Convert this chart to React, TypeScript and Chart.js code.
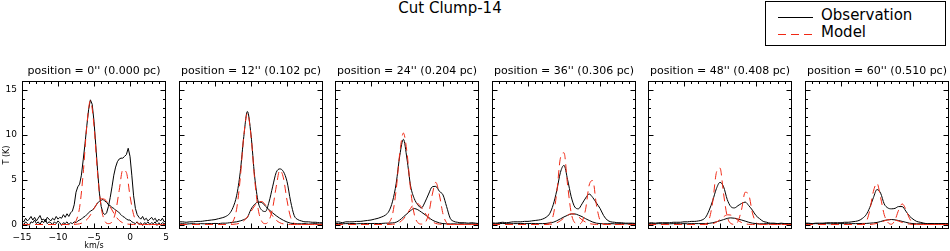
import React, { useEffect, useRef } from "react";
import { Chart, registerables } from "chart.js";
Chart.register(...registerables);

// ---------------- data ----------------
const VEL = [
  -15, -14.5, -14, -13.5, -13, -12.5, -12, -11.5, -11, -10.5,
  -10, -9.5, -9, -8.5, -8, -7.5, -7, -6.5, -6, -5.5,
  -5, -4.5, -4, -3.5, -3, -2.5, -2, -1.5, -1, -0.5,
  0, 0.5, 1, 1.5, 2, 2.5, 3, 3.5, 4, 4.5, 5,
];
const VEL_FINE = [
  -15, -14.75, -14.5, -14.25, -14, -13.75, -13.5, -13.25, -13, -12.75,
  -12.5, -12.25, -12, -11.75, -11.5, -11.25, -11, -10.75, -10.5, -10.25,
  -10, -9.75, -9.5, -9.25, -9, -8.75, -8.5, -8.25, -8, -7.75,
  -7.5, -7.25, -7, -6.75, -6.5, -6.25, -6, -5.75, -5.5, -5.25,
  -5, -4.75, -4.5, -4.25, -4, -3.75, -3.5, -3.25, -3, -2.75,
  -2.5, -2.25, -2, -1.75, -1.5, -1.25, -1, -0.75, -0.5, -0.25,
  0, 0.25, 0.5, 0.75, 1, 1.25, 1.5, 1.75, 2, 2.25,
  2.5, 2.75, 3, 3.25, 3.5, 3.75, 4, 4.25, 4.5, 4.75,
  5,
];

const TITLES = [
  "position = 0'' (0.000 pc)",
  "position = 12'' (0.102 pc)",
  "position = 24'' (0.204 pc)",
  "position = 36'' (0.306 pc)",
  "position = 48'' (0.408 pc)",
  "position = 60'' (0.510 pc)",
];
const X_TICKS = [-15, -10, -5, 0, 5];
const Y_TICKS = [0, 5, 10, 15];
const X_LABEL = "km/s";
const Y_LABEL = "T (K)";
const FIG_TITLE = "Cut Clump-14";
const LEGEND_LABELS = ["Observation", "Model"];

// position 0'' (fine velocity grid)
const P1_OBS_A = [
  0.5, 0.3, 0.7, 0.4, 0.6, 0.9, 0.5, 0.8, 0.4, 0.7,
  1.0, 0.5, 0.6, 0.3, 0.8, 0.6, 0.4, 0.7, 0.5, 0.9,
  0.6, 0.8, 0.7, 1.1, 0.8, 1.2, 0.9, 1.3, 1.5, 2.2,
  3.6, 4.2, 4.5, 5.5, 7.2, 9.0, 11.0, 12.8, 13.9, 13.4,
  11.5, 8.8, 6.0, 3.5, 2.0, 1.3, 1.1, 1.3, 2.0, 3.0,
  4.2, 5.5, 6.4, 7.0, 7.3, 7.4, 7.4, 7.6, 7.8, 8.5,
  7.6, 5.5, 3.2, 1.8, 1.1, 0.8, 0.6, 0.9, 0.5, 0.7,
  0.4, 0.6, 0.8, 0.5, 0.7, 0.3, 0.6, 0.4, 0.7, 0.3,
  0.5,
];
const P1_OBS_B = [
  0.2, 0.0, 0.3, 0.1, -0.1, 0.3, 0.2, 0.5, 0.1, 0.3,
  0.0, 0.4, 0.2, 0.6, 0.1, 0.3, 0.2, 0.0, 0.3, 0.1,
  0.4, 0.2, -0.1, 0.2, 0.1, 0.3, 0.0, 0.2, 0.1, 0.3,
  0.2, 0.4, 0.5, 0.6, 0.8, 0.9, 1.1, 1.3, 1.5, 1.6,
  1.8, 2.1, 2.4, 2.6, 2.7, 2.8, 2.6, 2.5, 2.2, 2.1,
  1.9, 1.8, 1.6, 1.5, 1.3, 1.1, 0.9, 0.8, 0.6, 0.5,
  0.5, 0.3, 0.2, 0.1, 0.3, 0.0, 0.2, -0.1, 0.2, 0.1,
  0.3, 0.0, 0.2, 0.1, 0.3, -0.1, 0.2, 0.0, 0.2, 0.1,
  0.2,
];
const P1_MOD_A = [
  0, 0, 0, 0, 0, 0, 0, 0, 0, 0,
  0, 0, 0, 0, 0.05, 0.4, 1.9, 5.7, 11.0, 13.8,
  11.0, 5.7, 1.9, 0.4, 0.1, 0.3, 1.4, 3.8, 6.1, 5.8,
  3.2, 1.1, 0.2, 0.02, 0, 0, 0, 0, 0, 0, 0,
];
const P1_MOD_B = [
  0, 0, 0, 0, 0, 0, 0, 0, 0, 0,
  0, 0, 0, 0, 0, 0.03, 0.08, 0.23, 0.54, 1.06,
  1.76, 2.45, 2.87, 2.8, 2.3, 1.62, 0.94, 0.46, 0.19, 0.07,
  0.02, 0, 0, 0, 0, 0, 0, 0, 0, 0, 0,
];

// position 12''
const P2_OBS_A = [
  0.3, 0.3, 0.25, 0.3, 0.3, 0.35, 0.35, 0.4, 0.45, 0.5,
  0.55, 0.65, 0.75, 0.9, 1.2, 1.9, 3.2, 5.8, 9.8, 12.6,
  10.0, 5.4, 2.5, 1.6, 1.45, 2.5, 4.2, 5.8, 6.2, 5.9,
  4.8, 2.6, 1.0, 0.55, 0.4, 0.3, 0.3, 0.25, 0.25, 0.2, 0.2,
];
const P2_OBS_B = [
  0.05, 0.1, 0.05, 0.08, 0.1, 0.05, 0.1, 0.08, 0.1, 0.1,
  0.12, 0.1, 0.15, 0.15, 0.2, 0.25, 0.3, 0.4, 0.55, 0.8,
  1.7, 2.25, 2.5, 2.45, 2.05, 1.65, 1.3, 0.98, 0.7, 0.47,
  0.28, 0.15, 0.1, 0.08, 0.08, 0.1, 0.05, 0.08, 0.1, 0.05, 0.08,
];
const P2_MOD_A = [
  0, 0, 0, 0, 0, 0, 0, 0, 0, 0,
  0, 0, 0, 0, 0.05, 0.35, 1.7, 5.1, 9.9, 12.4,
  9.9, 5.1, 1.7, 0.35, 0.1, 0.45, 1.8, 4.2, 6.05, 5.2,
  2.7, 0.8, 0.15, 0.01, 0, 0, 0, 0, 0, 0, 0,
];
const P2_MOD_B = [
  0, 0, 0, 0, 0, 0, 0, 0, 0, 0,
  0, 0, 0, 0, 0, 0.02, 0.06, 0.17, 0.42, 0.85,
  1.45, 2.07, 2.52, 2.56, 2.2, 1.58, 0.95, 0.48, 0.2, 0.07,
  0.02, 0, 0, 0, 0, 0, 0, 0, 0, 0, 0,
];

// position 24''
const P3_OBS_A = [
  0.25, 0.3, 0.2, 0.3, 0.3, 0.3, 0.35, 0.35, 0.4, 0.45,
  0.5, 0.6, 0.7, 0.85, 1.05, 1.5, 2.6, 4.6, 7.7, 9.5,
  7.3, 4.3, 2.9, 2.2, 1.85, 2.5, 3.4, 4.2, 4.25, 3.7,
  3.3, 2.0, 0.7, 0.35, 0.25, 0.2, 0.2, 0.15, 0.2, 0.15, 0.1,
];
const P3_OBS_B = [
  0.1, 0.12, 0.08, 0.1, 0.1, 0.12, 0.08, 0.1, 0.1, 0.12,
  0.1, 0.12, 0.1, 0.12, 0.15, 0.15, 0.18, 0.26, 0.5, 0.85,
  1.2, 1.55, 1.78, 1.65, 1.38, 1.1, 0.8, 0.5, 0.32, 0.18,
  0.1, 0.08, 0.06, 0.08, 0.05, 0.08, 0.06, 0.05, 0.08, 0.06, 0.05,
];
const P3_MOD_A = [
  0, 0, 0, 0, 0, 0, 0, 0, 0, 0,
  0, 0, 0, 0, 0.02, 0.21, 1.17, 3.9, 8.0, 10.2,
  8.0, 3.9, 1.17, 0.21, 0.05, 0.2, 1.17, 3.3, 4.7, 3.3,
  1.17, 0.2, 0.02, 0, 0, 0, 0, 0, 0, 0, 0,
];
const P3_MOD_B = [
  0, 0, 0, 0, 0, 0, 0, 0, 0, 0,
  0, 0, 0, 0, 0, 0, 0.03, 0.09, 0.26, 0.61,
  1.17, 1.8, 2.27, 2.31, 1.92, 1.3, 0.71, 0.32, 0.12, 0.04,
  0.01, 0, 0, 0, 0, 0, 0, 0, 0, 0, 0,
];

// position 36''
const P4_OBS_A = [
  0.2, 0.15, 0.2, 0.25, 0.2, 0.25, 0.3, 0.3, 0.3, 0.35,
  0.35, 0.4, 0.45, 0.5, 0.6, 0.8, 1.2, 2.2, 3.8, 5.8,
  6.6, 5.0, 3.1, 1.95, 1.75, 2.3, 2.95, 3.4, 3.0, 2.4,
  1.8, 1.0, 0.5, 0.3, 0.25, 0.2, 0.2, 0.15, 0.15, 0.15, 0.1,
];
const P4_OBS_B = [
  0.1, 0.08, 0.1, 0.12, 0.1, 0.08, 0.1, 0.1, 0.12, 0.1,
  0.1, 0.12, 0.1, 0.1, 0.1, 0.12, 0.18, 0.25, 0.42, 0.63,
  0.85, 1.03, 1.17, 1.18, 1.05, 0.88, 0.65, 0.45, 0.27, 0.15,
  0.1, 0.08, 0.08, 0.1, 0.08, 0.08, 0.1, 0.08, 0.08, 0.1, 0.08,
];
const P4_MOD_A = [
  0, 0, 0, 0, 0, 0, 0, 0, 0, 0,
  0, 0, 0, 0, 0, 0.02, 0.15, 1.0, 3.6, 7.4,
  8.0, 4.4, 1.3, 0.2, 0.05, 0.3, 1.7, 4.4, 4.9, 2.2,
  0.46, 0.04, 0, 0, 0, 0, 0, 0, 0, 0, 0,
];
const P4_MOD_B = [
  0, 0, 0, 0, 0, 0, 0, 0, 0, 0,
  0, 0, 0, 0, 0, 0, 0.02, 0.07, 0.19, 0.42,
  0.73, 1.03, 1.2, 1.14, 0.86, 0.53, 0.27, 0.11, 0.04, 0.01,
  0, 0, 0, 0, 0, 0, 0, 0, 0, 0, 0,
];

// position 48''
const P5_OBS_A = [
  0.15, 0.2, 0.15, 0.2, 0.2, 0.2, 0.2, 0.25, 0.25, 0.25,
  0.3, 0.3, 0.35, 0.35, 0.4, 0.5, 0.8, 1.6, 2.7, 4.0,
  4.7, 4.2, 2.8, 2.0, 1.85, 2.1, 2.35, 2.5, 2.1, 1.6,
  1.0, 0.65, 0.35, 0.25, 0.15, 0.15, 0.1, 0.15, 0.1, 0.1, 0.1,
];
const P5_OBS_B = [
  0.08, 0.1, 0.08, 0.1, 0.08, 0.1, 0.08, 0.1, 0.1, 0.08,
  0.1, 0.08, 0.1, 0.1, 0.1, 0.1, 0.1, 0.13, 0.2, 0.3,
  0.42, 0.55, 0.68, 0.74, 0.7, 0.6, 0.5, 0.38, 0.25, 0.15,
  0.1, 0.08, 0.08, 0.1, 0.08, 0.08, 0.1, 0.08, 0.08, 0.1, 0.08,
];
const P5_MOD_A = [
  0, 0, 0, 0, 0, 0, 0, 0, 0, 0,
  0, 0, 0, 0, 0, 0, 0.07, 0.6, 2.6, 5.8,
  6.3, 3.4, 0.9, 0.12, 0.02, 0.35, 1.7, 3.6, 3.3, 1.3,
  0.23, 0.02, 0, 0, 0, 0, 0, 0, 0, 0, 0,
];
const P5_MOD_B = [
  0, 0, 0, 0, 0, 0, 0, 0, 0, 0,
  0, 0, 0, 0, 0, 0, 0, 0.03, 0.1, 0.26,
  0.54, 0.86, 1.08, 1.05, 0.8, 0.47, 0.22, 0.08, 0.02, 0,
  0, 0, 0, 0, 0, 0, 0, 0, 0, 0, 0,
];

// position 60''
const P6_OBS_A = [
  0.15, 0.15, 0.1, 0.15, 0.15, 0.15, 0.2, 0.2, 0.2, 0.2,
  0.2, 0.25, 0.25, 0.3, 0.35, 0.45, 0.7, 1.1, 1.9, 3.0,
  3.9, 3.5, 2.3, 1.85, 1.75, 1.8, 2.0, 2.0, 1.5, 0.95,
  0.6, 0.35, 0.25, 0.15, 0.1, 0.1, 0.1, 0.1, 0.1, 0.1, 0.1,
];
const P6_OBS_B = [
  0.08, 0.1, 0.08, 0.1, 0.08, 0.1, 0.1, 0.08, 0.1, 0.1,
  0.1, 0.1, 0.08, 0.1, 0.1, 0.1, 0.12, 0.12, 0.15, 0.18,
  0.23, 0.33, 0.45, 0.52, 0.56, 0.52, 0.44, 0.35, 0.25, 0.15,
  0.1, 0.08, 0.08, 0.1, 0.08, 0.1, 0.08, 0.08, 0.1, 0.08, 0.08,
];
const P6_MOD_A = [
  0, 0, 0, 0, 0, 0, 0, 0, 0, 0,
  0, 0, 0, 0, 0, 0, 0.05, 0.3, 1.6, 3.7,
  4.6, 3.0, 1.1, 0.25, 0.03, 0.5, 1.6, 2.3, 1.7, 0.7,
  0.15, 0.02, 0, 0, 0, 0, 0, 0, 0, 0, 0,
];
const P6_MOD_B = [
  0, 0, 0, 0, 0, 0, 0, 0, 0, 0,
  0, 0, 0, 0, 0, 0, 0, 0, 0, 0.05,
  0.12, 0.25, 0.4, 0.52, 0.55, 0.5, 0.38, 0.23, 0.12, 0.05,
  0.01, 0, 0, 0, 0, 0, 0, 0, 0, 0, 0,
];

// ---------------- layout / style ----------------
const FONT = "'DejaVu Sans', 'Liberation Sans', sans-serif";
const RED = "rgb(240,40,20)";
const X_MIN = -15, X_MAX = 5, Y_MIN = -0.5, Y_MAX = 16;
const BOX_LEFTS = [22, 179, 335, 492, 648, 805];
const BOX_W = 144;
const CANVAS_TOP = 60;
const CANVAS_H = 191;

type PanelData = {
  obsVel: number[];
  obsA: number[];
  obsB: number[];
  modA: number[];
  modB: number[];
};
const PANELS: PanelData[] = [
  { obsVel: VEL_FINE, obsA: P1_OBS_A, obsB: P1_OBS_B, modA: P1_MOD_A, modB: P1_MOD_B },
  { obsVel: VEL, obsA: P2_OBS_A, obsB: P2_OBS_B, modA: P2_MOD_A, modB: P2_MOD_B },
  { obsVel: VEL, obsA: P3_OBS_A, obsB: P3_OBS_B, modA: P3_MOD_A, modB: P3_MOD_B },
  { obsVel: VEL, obsA: P4_OBS_A, obsB: P4_OBS_B, modA: P4_MOD_A, modB: P4_MOD_B },
  { obsVel: VEL, obsA: P5_OBS_A, obsB: P5_OBS_B, modA: P5_MOD_A, modB: P5_MOD_B },
  { obsVel: VEL, obsA: P6_OBS_A, obsB: P6_OBS_B, modA: P6_MOD_A, modB: P6_MOD_B },
];

const pts = (xs: number[], ys: number[]) => ys.map((y, i) => ({ x: xs[i], y }));
const fmtTick = (v: number) => (v < 0 ? "\u2212" + String(-v) : String(v));

const framePlugin = {
  id: "idlFrame",
  afterDatasetsDraw(chart: any) {
    const { ctx, chartArea: a, scales } = chart;
    const xs = scales.x;
    const ys = scales.y;
    const L = Math.round(a.left) + 0.5;
    const R = Math.round(a.right) - 0.5;
    const T = Math.round(a.top) + 0.5;
    const B = Math.round(a.bottom) - 0.5;
    ctx.save();
    ctx.strokeStyle = "#000";
    ctx.lineWidth = 1;
    ctx.strokeRect(L, T, R - L, B - T);
    ctx.beginPath();
    for (let v = X_MIN + 1; v < X_MAX; v += 1) {
      const p = Math.round(xs.getPixelForValue(v)) + 0.5;
      const len = X_TICKS.includes(v) ? 5 : 2.5;
      ctx.moveTo(p, B);
      ctx.lineTo(p, B - len);
      ctx.moveTo(p, T);
      ctx.lineTo(p, T + len);
    }
    for (let v = 0; v <= Math.floor(Y_MAX); v += 1) {
      const p = Math.round(ys.getPixelForValue(v)) + 0.5;
      if (p <= T + 1) continue;
      const len = Y_TICKS.includes(v) ? 5 : 2.5;
      ctx.moveTo(L, p);
      ctx.lineTo(L + len, p);
      ctx.moveTo(R, p);
      ctx.lineTo(R - len, p);
    }
    ctx.stroke();
    ctx.restore();
  },
};

function Panel({ idx }: { idx: number }) {
  const ref = useRef<HTMLCanvasElement>(null);
  const first = idx === 0;
  const leftExtra = first ? 22 : 3;
  const width = leftExtra + BOX_W + 3;
  const left = BOX_LEFTS[idx] - leftExtra;

  useEffect(() => {
    const d = PANELS[idx];
    const line = (data: any[], color: string, dashed: boolean, smooth: boolean) => ({
      data,
      borderColor: color,
      backgroundColor: color,
      borderWidth: 1,
      borderDash: dashed ? [8, 5] : [],
      pointRadius: 0,
      fill: false,
      cubicInterpolationMode: smooth ? ("monotone" as const) : ("default" as const),
      tension: 0,
    });
    const chart = new Chart(ref.current as HTMLCanvasElement, {
      type: "line",
      data: {
        datasets: [
          line(pts(VEL, d.modA), RED, true, true),
          line(pts(VEL, d.modB), RED, true, true),
          line(pts(d.obsVel, d.obsA), "#000", false, !first),
          line(pts(d.obsVel, d.obsB), "#000", false, !first),
        ],
      },
      options: {
        responsive: false,
        animation: false,
        events: [],
        layout: {
          autoPadding: false,
          padding: first
            ? { left: 0, right: 3, top: 0, bottom: 0 }
            : { left: 3, right: 3, top: 0, bottom: 22 },
        },
        plugins: {
          legend: { display: false },
          tooltip: { enabled: false },
          title: {
            display: true,
            text: TITLES[idx],
            color: "#000",
            fullSize: false,
            font: { family: FONT, size: 11, weight: "normal", lineHeight: 1 },
            padding: { top: 6, bottom: 4 },
          },
        },
        scales: {
          x: {
            type: "linear",
            min: X_MIN,
            max: X_MAX,
            display: first,
            afterBuildTicks: (ax: any) => {
              ax.ticks = X_TICKS.map((v) => ({ value: v }));
            },
            afterFit: (ax: any) => {
              if (!first) return;
              ax.height = 22;
              ax.paddingLeft = 0;
              ax.paddingRight = 0;
            },
            grid: { display: false, drawTicks: false },
            border: { display: false },
            ticks: {
              color: "#000",
              font: { family: FONT, size: 9 },
              padding: 3,
              maxRotation: 0,
              autoSkip: false,
              callback: (v: any) => fmtTick(Number(v)),
            },
            title: {
              display: true,
              text: X_LABEL,
              color: "#000",
              font: { family: FONT, size: 8 },
              padding: 0,
            },
          },
          y: {
            type: "linear",
            min: Y_MIN,
            max: Y_MAX,
            display: first,
            afterBuildTicks: (ax: any) => {
              ax.ticks = Y_TICKS.map((v) => ({ value: v }));
            },
            afterFit: (ax: any) => {
              if (!first) return;
              ax.width = 22;
              ax.paddingTop = 0;
              ax.paddingBottom = 0;
            },
            grid: { display: false, drawTicks: false },
            border: { display: false },
            ticks: {
              color: "#000",
              font: { family: FONT, size: 9 },
              padding: 5,
              autoSkip: false,
              callback: (v: any) => fmtTick(Number(v)),
            },
            title: {
              display: true,
              text: Y_LABEL,
              color: "#000",
              font: { family: FONT, size: 8 },
              padding: { top: 2, bottom: 0 },
            },
          },
        },
      },
      plugins: [framePlugin],
    } as any);
    return () => chart.destroy();
  }, [idx]);

  return (
    <canvas
      ref={ref}
      width={width}
      height={CANVAS_H}
      style={{ position: "absolute", left, top: CANVAS_TOP, width, height: CANVAS_H }}
    />
  );
}

export default function App() {
  return (
    <div
      style={{
        position: "absolute",
        left: 0,
        top: 0,
        width: 950,
        height: 251,
        background: "#fff",
        overflow: "hidden",
        fontFamily: FONT,
      }}
    >
      <div
        style={{
          position: "absolute",
          left: 350,
          top: 0,
          width: 200,
          textAlign: "center",
          fontSize: 15,
          lineHeight: "17px",
          color: "#000",
        }}
      >
        {FIG_TITLE}
      </div>
      <div
        style={{
          position: "absolute",
          left: 765,
          top: 1,
          width: 181,
          height: 45,
          border: "1px solid #000",
          boxSizing: "border-box",
        }}
      >
        <svg width={50} height={44} style={{ position: "absolute", left: 10, top: 0 }}>
          <line x1={2} y1={15.5} x2={37} y2={15.5} stroke="#000" strokeWidth={1} />
          <line x1={2} y1={32.5} x2={37} y2={32.5} stroke={RED} strokeWidth={1} strokeDasharray="8 5" />
        </svg>
        <div style={{ position: "absolute", left: 55, top: 5, fontSize: 15, lineHeight: "17px" }}>
          {LEGEND_LABELS[0]}
        </div>
        <div style={{ position: "absolute", left: 55, top: 22, fontSize: 15, lineHeight: "17px" }}>
          {LEGEND_LABELS[1]}
        </div>
      </div>
      {PANELS.map((_, i) => (
        <Panel key={i} idx={i} />
      ))}
    </div>
  );
}
